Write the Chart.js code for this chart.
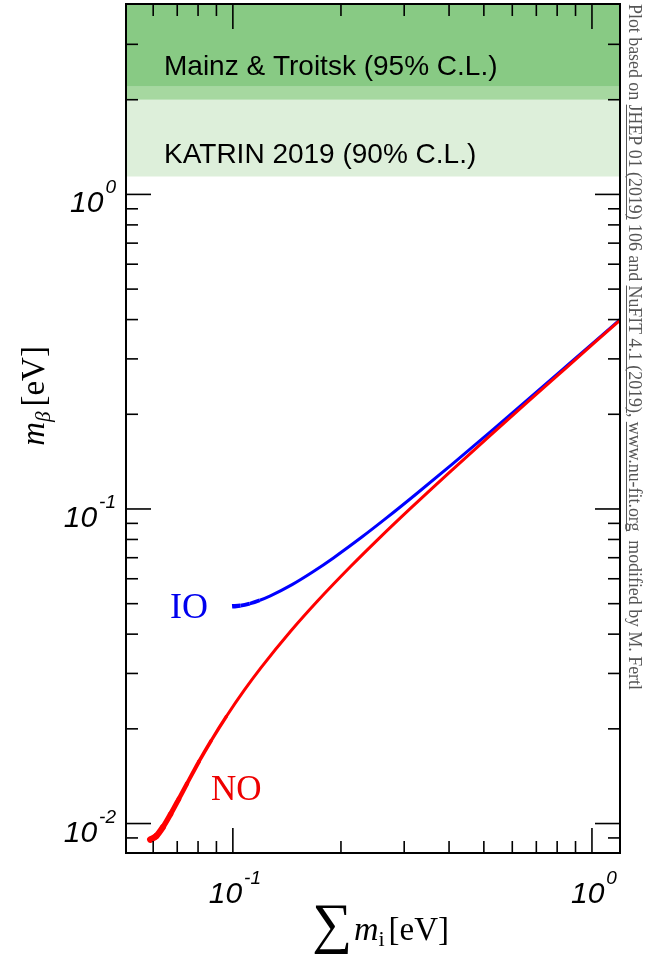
<!DOCTYPE html>
<html><head><meta charset="utf-8">
<script src="https://cdn.jsdelivr.net/npm/chart.js@4/dist/chart.umd.min.js"></script>
<style>html,body{margin:0;padding:0;background:#fff;overflow:hidden}</style>
</head><body>
<canvas id="c" width="648" height="955"></canvas>
<script>
// ---- data (sum of masses [eV] vs m_beta [eV]) ----
const noSum    = [0.0589, 0.0611, 0.0639, 0.0671, 0.0707, 0.0745, 0.0805, 0.0869, 0.0959, 0.1076, 0.1198, 0.1452, 0.1716, 0.2127, 0.2549, 0.3123, 0.3997, 0.5175, 0.6658, 0.8446, 1.0238, 1.2032];
const noMbeta  = [0.00889, 0.00911, 0.00975, 0.01072, 0.01196, 0.01338, 0.01575, 0.0183, 0.02189, 0.02653, 0.03129, 0.04098, 0.05078, 0.0656, 0.08049, 0.1004, 0.1303, 0.1702, 0.2202, 0.2801, 0.3401, 0.4001];
const ioSum    = [0.0995, 0.1050, 0.1114, 0.1189, 0.1272, 0.1462, 0.1676, 0.1910, 0.2287, 0.2684, 0.3234, 0.4084, 0.5242, 0.6711, 0.8488, 1.0272, 1.2062];
const ioMbeta  = [0.04903, 0.04928, 0.05003, 0.05127, 0.05295, 0.05748, 0.06327, 0.07002, 0.08142, 0.09383, 0.1114, 0.1389, 0.1769, 0.2254, 0.2843, 0.3435, 0.4030];

const katrinLimit = 1.14;   // KATRIN 2019 band lower edge [eV]
const mainzLow    = 2.0;    // Mainz & Troitsk lower edge
const mainzHigh   = 2.2;    // overlap edge
const bandLabels  = ['Mainz & Troitsk (95% C.L.)', 'KATRIN 2019 (90% C.L.)'];

const xMajorTicks = [0.1, 1];
const xMinorTicks = [0.06, 0.07, 0.08, 0.09, 0.2, 0.3, 0.4, 0.5, 0.6, 0.7, 0.8, 0.9];
const yMajorTicks = [0.01, 0.1, 1];
const yMinorTicks = [0.009, 0.02, 0.03, 0.04, 0.05, 0.06, 0.07, 0.08, 0.09, 0.2, 0.3, 0.4, 0.5, 0.6, 0.7, 0.8, 0.9, 2, 3];
const xTickExps = ['-1', '0'];
const yTickExps = ['-2', '-1', '0'];

const xMin = 0.0504, xMax = 1.197, yMin = 0.00806, yMax = 4.03;
const sideNote = 'Plot based on JHEP 01 (2019) 106 and NuFIT 4.1 (2019), www.nu-fit.org  modified by M. Fertl';
const sideUnderlined = ['JHEP 01 (2019)', 'NuFIT 4.1 (2019)', 'www.nu-fit.org'];

const SANS = '"Liberation Sans", Arial, Helvetica, sans-serif';
const SERIF = '"Liberation Serif", "Times New Roman", serif';

function pow10(ctx, exp, x, baseline, align) {
  const main = 'italic 30px ' + SANS, sup = 'italic 19px ' + SANS;
  ctx.font = main; const w1 = ctx.measureText('10').width;
  ctx.font = sup; const w2 = ctx.measureText(exp).width;
  const gap = 2, total = w1 + gap + w2;
  const x0 = align === 'right' ? x - total : x - total / 2;
  ctx.textAlign = 'left'; ctx.textBaseline = 'alphabetic'; ctx.fillStyle = '#000';
  ctx.font = main; ctx.fillText('10', x0, baseline);
  ctx.font = sup; ctx.fillText(exp, x0 + w1 + gap, baseline - 19);
}

const bandsPlugin = {
  id: 'bands',
  beforeDatasetsDraw(chart) {
    const {ctx, chartArea: a, scales: {y}} = chart;
    const yK = y.getPixelForValue(katrinLimit), yL = y.getPixelForValue(mainzLow), yH = y.getPixelForValue(mainzHigh);
    ctx.save();
    ctx.fillStyle = '#ddefda'; ctx.fillRect(a.left, yL, a.right - a.left, yK - yL);
    ctx.fillStyle = '#a6d8a0'; ctx.fillRect(a.left, yH, a.right - a.left, yL - yH);
    ctx.fillStyle = '#88ca84'; ctx.fillRect(a.left, a.top, a.right - a.left, yH - a.top);
    ctx.fillStyle = '#000'; ctx.font = '28px ' + SANS; ctx.textAlign = 'left'; ctx.textBaseline = 'alphabetic';
    ctx.fillText(bandLabels[0], 164, 75);
    ctx.fillText(bandLabels[1], 164, 163);
    ctx.restore();
  }
};

const framePlugin = {
  id: 'frame',
  afterDraw(chart) {
    const {ctx, chartArea: a, scales: {x, y}} = chart;
    ctx.save();
    ctx.strokeStyle = '#000'; ctx.lineWidth = 1.6;
    const line = (x1, y1, x2, y2) => { ctx.beginPath(); ctx.moveTo(x1, y1); ctx.lineTo(x2, y2); ctx.stroke(); };
    const tx = (v, len) => { const p = x.getPixelForValue(v); line(p, a.bottom, p, a.bottom - len); line(p, a.top, p, a.top + len); };
    const ty = (v, len) => { const p = y.getPixelForValue(v); line(a.left, p, a.left + len, p); line(a.right, p, a.right - len, p); };
    xMajorTicks.forEach(v => tx(v, 25)); xMinorTicks.forEach(v => tx(v, 12));
    yMajorTicks.forEach(v => ty(v, 25)); yMinorTicks.forEach(v => ty(v, 12));
    ctx.lineWidth = 2;
    ctx.strokeRect(a.left, a.top, a.right - a.left, a.bottom - a.top);

    // tick labels
    xMajorTicks.forEach((v, i) => pow10(ctx, xTickExps[i], x.getPixelForValue(v) + 2, 903, 'center'));
    yMajorTicks.forEach((v, i) => pow10(ctx, yTickExps[i], 116, y.getPixelForValue(v) + 18, 'right'));

    // x title: sum m_i [eV]
    ctx.fillStyle = '#000'; ctx.textAlign = 'left'; ctx.textBaseline = 'alphabetic';
    let cx = 312;
    ctx.font = '56px ' + SERIF; ctx.fillText('\u2211', cx, 942); cx += ctx.measureText('\u2211').width + 2;
    ctx.font = 'italic 34px ' + SERIF; ctx.fillText('m', cx, 940); cx += ctx.measureText('m').width;
    ctx.font = '22px ' + SERIF; ctx.fillText('i', cx, 946); cx += ctx.measureText('i').width + 4;
    ctx.font = '33px ' + SERIF; ctx.fillText('[eV]', cx, 940);

    // y title: m_beta [eV]
    ctx.save();
    ctx.translate(44, 396); ctx.rotate(-Math.PI / 2);
    const f1 = 'italic 33px ' + SERIF, f2 = 'italic 21px ' + SERIF, f3 = '33px ' + SERIF;
    ctx.font = f1; const wm = ctx.measureText('m').width;
    ctx.font = f2; const wb = ctx.measureText('\u03b2').width;
    ctx.font = f3; const we = ctx.measureText('[eV]').width;
    let px = -(wm + wb + 5 + we) / 2;
    ctx.font = f1; ctx.fillText('m', px, 0); px += wm;
    ctx.font = f2; ctx.fillText('\u03b2', px, 6); px += wb + 5;
    ctx.font = f3; ctx.fillText('[eV]', px, 0);
    ctx.restore();

    // curve labels
    ctx.font = '36px ' + SERIF; ctx.fillStyle = '#0000ee'; ctx.fillText('IO', 170, 618);
    ctx.font = '35px ' + SERIF; ctx.fillStyle = '#ee0000'; ctx.fillText('NO', 211, 800);

    // side note
    ctx.save();
    ctx.translate(629, 4); ctx.rotate(Math.PI / 2);
    ctx.font = '17px ' + SERIF;
    const wFull = ctx.measureText(sideNote).width;
    const fs = 17 * 686 / wFull;
    ctx.font = fs.toFixed(2) + 'px ' + SERIF;
    ctx.fillStyle = '#555'; ctx.strokeStyle = '#555'; ctx.lineWidth = 1;
    ctx.fillText(sideNote, 0, 0);
    sideUnderlined.forEach(s => {
      const i = sideNote.indexOf(s);
      const s0 = ctx.measureText(sideNote.slice(0, i)).width, sw = ctx.measureText(s).width;
      ctx.beginPath(); ctx.moveTo(s0, 2.5); ctx.lineTo(s0 + sw, 2.5); ctx.stroke();
    });
    ctx.restore();
    ctx.restore();
  }
};

const redWidths = [6.5, 6, 5.5, 5, 4.5, 4, 3.6, 3.3];
const blueWidths = [4.5, 4, 3.5];

new Chart(document.getElementById('c').getContext('2d'), {
  type: 'line',
  data: {
    datasets: [
      { label: 'NO', data: noSum.map((v, i) => ({x: v, y: noMbeta[i]})), borderColor: '#ff0000', borderWidth: 3,
        pointRadius: 0, cubicInterpolationMode: 'monotone', borderCapStyle: 'round', borderJoinStyle: 'round',
        segment: { borderWidth: c => redWidths[c.p0DataIndex] ?? 3 } },
      { label: 'IO', data: ioSum.map((v, i) => ({x: v, y: ioMbeta[i]})), borderColor: '#0000ff', borderWidth: 3,
        pointRadius: 0, cubicInterpolationMode: 'monotone', borderCapStyle: 'butt', borderJoinStyle: 'round',
        segment: { borderWidth: c => blueWidths[c.p0DataIndex] ?? 3 } }
    ]
  },
  options: {
    responsive: false, animation: false, events: [],
    layout: { padding: { left: 126, right: 28, top: 4, bottom: 102 } },
    plugins: { legend: { display: false }, tooltip: { enabled: false } },
    scales: {
      x: { type: 'logarithmic', min: xMin, max: xMax, display: false },
      y: { type: 'logarithmic', min: yMin, max: yMax, display: false }
    }
  },
  plugins: [bandsPlugin, framePlugin]
});
</script>
</body></html>
